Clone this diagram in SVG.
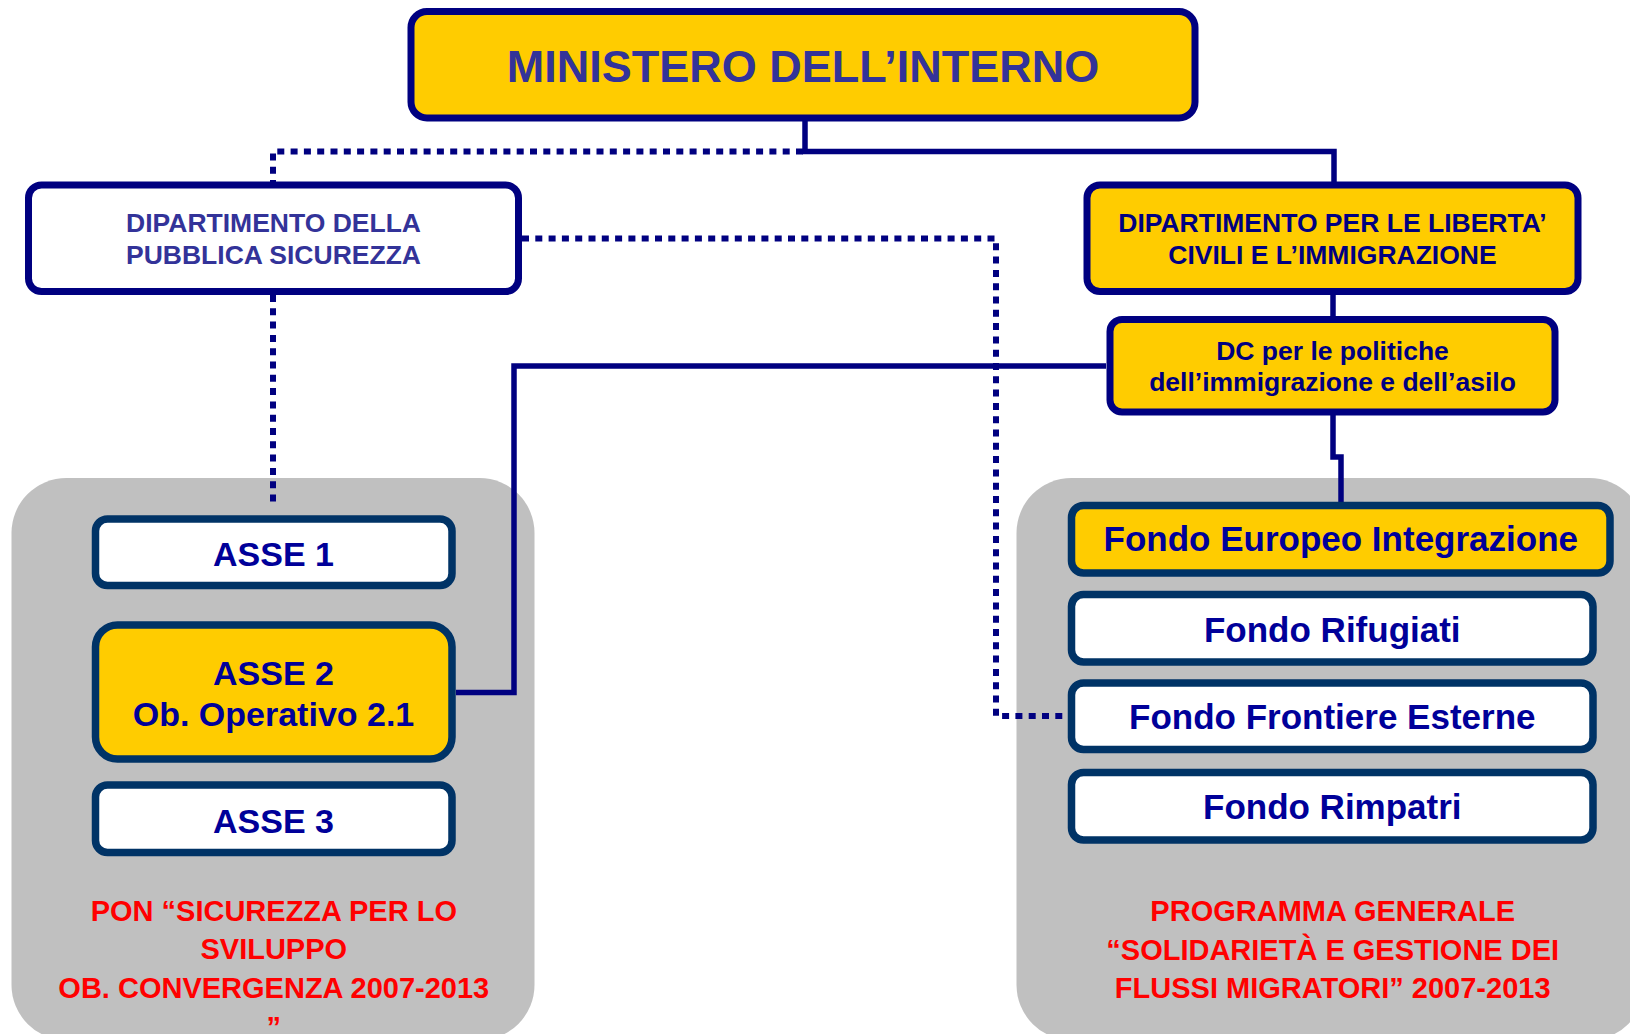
<svg xmlns="http://www.w3.org/2000/svg" width="1630" height="1034" viewBox="0 0 1630 1034">
<defs>
<style>
.panel{fill:#C0C0C0;}
.sol{fill:none;stroke:#000080;stroke-width:5.5;}
.dot{fill:none;stroke:#000080;stroke-width:6;stroke-dasharray:7 6.3;}
.top{fill:#FFCC00;stroke:#000080;stroke-width:7;}
.dw{fill:#FFFFFF;stroke:#000080;stroke-width:7;}
.bw{fill:#FFFFFF;stroke:#003366;stroke-width:7.5;}
.by{fill:#FFCC00;stroke:#003366;stroke-width:7.5;}
text{font-family:"Liberation Sans",Arial,sans-serif;font-weight:bold;text-anchor:middle;}
.t1{fill:#333399;font-size:45px;}
.t2{fill:#333399;font-size:26.5px;}
.t3{fill:#000080;font-size:26.5px;}
.t4{fill:#000099;font-size:34px;}
.t5{fill:#000099;font-size:35px;}
.red{fill:#FF0000;font-size:29px;}
</style>
</defs>
<rect width="1630" height="1034" fill="#FFFFFF"/>
<g id="panel-pon">
<rect class="panel" x="11.5" y="478" width="523" height="562" rx="55"/>
</g>
<g id="panel-programma">
<rect class="panel" x="1016.5" y="478" width="628" height="562" rx="55"/>
</g>
<g id="connectors">
<path class="sol" d="M805,120 V151.5 H1334 V182"/>
<path class="dot" d="M803,151.5 H273 V182"/>
<path class="sol" d="M1333,295 V316"/>
<path class="dot" d="M273,295 V502"/>
<path class="dot" d="M522,238.5 H996 V716 H1068"/>
<path class="sol" d="M1106,366 H514 V692.5 H456"/>
<path class="sol" d="M1333,415 V457 H1341 V502"/>
</g>
<g id="ministero">
<rect class="top" x="411" y="11.5" width="784" height="106.5" rx="16"/>
<text class="t1" x="803" y="82">MINISTERO DELL’INTERNO</text>
</g>
<g id="dip-pubblica-sicurezza">
<rect class="dw" x="28.5" y="185" width="490" height="106.5" rx="13"/>
<text class="t2" x="273.5" y="232.3">DIPARTIMENTO DELLA</text>
<text class="t2" x="273.5" y="264">PUBBLICA SICUREZZA</text>
</g>
<g id="dip-liberta">
<rect class="top" x="1087" y="185" width="491" height="106.5" rx="13"/>
<text class="t3" x="1332.5" y="232.3">DIPARTIMENTO PER LE LIBERTA’</text>
<text class="t3" x="1332.5" y="264">CIVILI E L’IMMIGRAZIONE</text>
</g>
<g id="dc-politiche">
<rect class="top" x="1110" y="319.5" width="445" height="92.5" rx="12"/>
<text class="t3" x="1332.5" y="360">DC per le politiche</text>
<text class="t3" x="1332.5" y="391">dell’immigrazione e dell’asilo</text>
</g>
<g id="asse1">
<rect class="bw" x="95.5" y="519" width="356.5" height="66.5" rx="12"/>
<text class="t4" x="273.5" y="565.7">ASSE 1</text>
</g>
<g id="asse2">
<rect class="by" x="95.5" y="625" width="356.5" height="134" rx="22"/>
<text class="t4" x="273.5" y="685">ASSE 2</text>
<text class="t4" x="273.5" y="726">Ob. Operativo 2.1</text>
</g>
<g id="asse3">
<rect class="bw" x="95.5" y="785" width="356.5" height="67.5" rx="12"/>
<text class="t4" x="273.5" y="832.7">ASSE 3</text>
</g>
<g id="pon-label">
<text class="red" x="273.8" y="920.7">PON “SICUREZZA PER LO</text>
<text class="red" x="273.8" y="959.3">SVILUPPO</text>
<text class="red" x="273.8" y="998.3">OB. CONVERGENZA 2007-2013</text>
<text class="red" x="273.8" y="1037">”</text>
</g>
<g id="fondo-integrazione">
<rect class="by" x="1071.5" y="505.5" width="538.5" height="67.5" rx="12"/>
<text class="t5" x="1340.8" y="550.7">Fondo Europeo Integrazione</text>
</g>
<g id="fondo-rifugiati">
<rect class="bw" x="1071.5" y="594.5" width="521.5" height="67.5" rx="12"/>
<text class="t5" x="1332.3" y="641.7">Fondo Rifugiati</text>
</g>
<g id="fondo-frontiere">
<rect class="bw" x="1071.5" y="683" width="521.5" height="66.5" rx="12"/>
<text class="t5" x="1332.3" y="729.3">Fondo Frontiere Esterne</text>
</g>
<g id="fondo-rimpatri">
<rect class="bw" x="1071.5" y="772.5" width="521.5" height="67.5" rx="12"/>
<text class="t5" x="1332.3" y="819">Fondo Rimpatri</text>
</g>
<g id="programma-label">
<text class="red" x="1332.7" y="920.7">PROGRAMMA GENERALE</text>
<text class="red" x="1332.7" y="960">“SOLIDARIETÀ E GESTIONE DEI</text>
<text class="red" x="1332.7" y="998.3">FLUSSI MIGRATORI” 2007-2013</text>
</g>
</svg>
